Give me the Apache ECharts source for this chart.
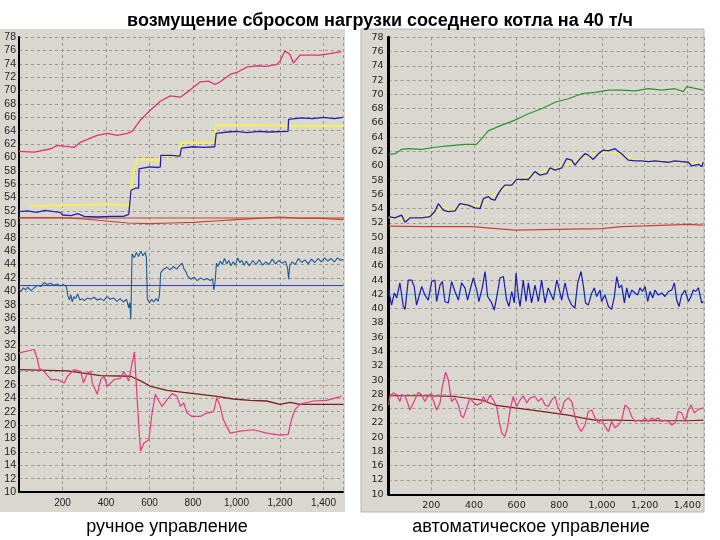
<!DOCTYPE html>
<html><head><meta charset="utf-8">
<script src="https://cdn.jsdelivr.net/npm/echarts@6/dist/echarts.min.js"></script>
<style>html,body{margin:0;padding:0;background:#fff}#c{width:720px;height:540px}</style>
</head><body><div id="c"></div>
<script>
// ---------- DATA (x = sample number, y = value) ----------
const titleText = 'возмущение сбросом нагрузки соседнего котла на 40 т/ч';
const leftCaption = 'ручное управление';
const rightCaption = 'автоматическое управление';

// right panel y tick labels as printed (top to bottom)
const rightYLabels = ['78','76','74','72','70','68','66','64','62','60','58','56','54','52','50','48','46','44','42','40','38','36','34','32','30','28','26','22','20','18','16','12','10'];

// LEFT panel (manual control)
const leftPinkTop = [[0,60.9],[70,60.8],[147,61.3],[177,61.8],[253,61.5],[284,62.3],[315,62.7],[360,63.3],[406,63.6],[452,63.3],[498,63.6],[520,63.9],[559,65.6],[605,67.1],[650,68.4],[696,69.2],[742,69.0],[788,70.1],[834,71.3],[872,71.4],[902,70.9],[925,71.3],[971,72.4],[1002,72.7],[1047,73.5],[1093,73.7],[1139,73.6],[1185,73.9],[1200,74.4],[1223,75.9],[1246,75.4],[1262,74.1],[1292,75.3],[1337,75.3],[1383,75.3],[1429,75.5],[1482,75.8]];
const leftYellow = [[50,52.7],[150,52.8],[300,52.9],[400,53.0],[510,52.8],[516,55.5],[530,58.5],[545,59.7],[600,59.7],[640,59.4],[650,60.3],[740,60.3],[745,62.2],[900,62.2],[905,64.8],[1100,64.8],[1300,64.7],[1490,64.7]];
const leftBlueStep = [[0,51.9],[40,52.0],[80,51.8],[120,52.1],[160,51.9],[190,51.8],[200,51.4],[240,51.3],[270,51.6],[300,51.2],[360,51.1],[420,51.2],[480,51.2],[505,51.5],[513,51.4],[515,55.1],[535,55.4],[550,55.4],[552,58.3],[600,58.6],[640,58.5],[650,58.6],[652,60.3],[700,60.3],[740,60.2],[745,60.3],[747,61.4],[800,61.6],[850,61.5],[900,61.6],[905,61.5],[907,63.6],[960,63.8],[1000,63.9],[1050,63.7],[1100,63.9],[1150,63.8],[1237,63.9],[1240,65.7],[1300,65.9],[1350,65.8],[1400,66.0],[1450,65.8],[1490,66.0]];
const leftRedCurve = [[0,51.0],[200,51.0],[300,50.8],[400,50.5],[500,50.2],[600,50.1],[700,50.2],[800,50.3],[900,50.5],[1000,50.7],[1100,50.9],[1200,51.1],[1300,50.9],[1400,50.9],[1490,50.7]];
const leftRedRef = 50.95;
const leftBlueRef = 40.85;
const leftSteel = [[0,40.3],[10,40.0],[20,40.5],[30,40.2],[40,40.6],[55,40.1],[70,40.5],[85,40.9],[100,40.7],[115,41.3],[130,41.0],[145,41.2],[160,40.9],[175,41.1],[190,40.8],[205,41.0],[218,40.7],[225,39.3],[232,38.7],[238,39.5],[245,38.4],[252,39.2],[260,38.9],[270,39.6],[280,38.7],[290,38.9],[300,38.6],[315,39.0],[330,38.8],[345,39.1],[360,38.7],[375,38.9],[390,38.6],[405,39.2],[420,38.8],[435,39.0],[450,38.5],[465,38.9],[480,38.4],[495,38.8],[505,37.5],[510,38.3],[514,35.8],[517,40.5],[520,45.6],[530,45.0],[540,45.8],[550,45.2],[560,46.0],[570,45.3],[580,45.8],[586,45.0],[590,38.9],[600,38.3],[610,38.8],[620,38.4],[630,38.9],[640,38.5],[646,39.5],[652,42.8],[665,43.3],[680,43.6],[695,43.2],[710,43.7],[725,43.3],[740,43.9],[750,44.2],[758,43.4],[768,42.9],[775,42.3],[790,41.8],[805,42.1],[820,41.6],[835,42.0],[850,41.7],[865,41.9],[880,41.6],[890,41.8],[896,40.2],[902,41.5],[908,44.2],[915,43.7],[925,44.5],[935,44.0],[945,44.9],[955,44.1],[965,44.6],[975,43.8],[985,44.4],[995,43.9],[1005,45.0],[1015,44.3],[1025,44.6],[1035,43.9],[1045,44.5],[1060,43.8],[1075,44.6],[1090,44.0],[1105,44.7],[1120,43.9],[1135,44.4],[1150,44.0],[1165,44.8],[1180,44.1],[1195,44.6],[1210,44.2],[1225,44.5],[1235,43.5],[1240,41.8],[1245,43.8],[1255,44.4],[1270,44.0],[1285,44.9],[1300,44.3],[1315,44.7],[1330,44.1],[1345,44.8],[1360,44.3],[1375,44.9],[1390,44.4],[1405,45.0],[1420,44.5],[1435,44.9],[1450,44.4],[1465,45.0],[1480,44.6],[1490,44.8]];
const leftPinkLow = [[0,30.8],[70,31.3],[78,31.5],[85,29.8],[93,28.5],[116,28.0],[147,26.8],[177,26.8],[208,26.3],[223,27.3],[253,28.3],[284,28.0],[296,26.3],[315,27.8],[330,28.0],[337,26.3],[360,24.6],[376,26.8],[391,27.3],[406,25.8],[437,26.8],[467,27.0],[482,28.0],[505,26.6],[520,29.3],[531,30.9],[540,25.8],[551,19.8],[559,16.1],[574,17.3],[597,17.8],[612,21.8],[627,24.6],[643,23.6],[658,22.8],[681,23.8],[704,24.7],[727,24.3],[742,22.8],[757,23.3],[773,21.8],[795,21.3],[834,21.3],[864,21.8],[895,22.0],[910,24.1],[925,22.8],[940,20.8],[971,18.8],[1017,19.1],[1078,19.3],[1139,18.8],[1200,18.5],[1238,18.6],[1253,20.8],[1269,22.3],[1292,23.1],[1353,23.6],[1414,23.7],[1482,24.3]];
const leftBrown = [[0,28.3],[223,28.1],[376,27.4],[513,27.3],[559,26.6],[605,25.8],[681,25.2],[757,24.9],[834,24.6],[910,24.3],[986,23.9],[1063,23.7],[1139,23.6],[1200,23.1],[1246,23.4],[1292,23.1],[1490,23.1]];

// RIGHT panel (automatic control) — y in the panel's grid units
const rightGreen = [[0,61.6],[30,61.7],[61,62.3],[92,62.4],[155,62.3],[217,62.6],[280,62.8],[358,63.0],[412,63.0],[436,63.8],[467,64.9],[530,65.7],[592,66.4],[655,67.3],[717,68.0],[780,68.9],[842,69.4],[905,70.1],[967,70.3],[1030,70.6],[1092,70.6],[1155,70.5],[1217,70.8],[1280,70.6],[1342,70.8],[1381,70.4],[1397,71.1],[1475,70.6]];
const rightYellow = [[0,52.8],[77,52.6],[155,52.8],[217,53.3],[250,54.3],[300,53.8],[350,54.6],[420,54.3],[467,55.5],[530,56.6],[600,58.0],[686,58.9],[780,59.6],[858,60.5],[936,61.4],[1030,62.0],[1092,61.6],[1155,60.8],[1280,60.6],[1405,60.5],[1475,60.2]];
const rightBlue = [[0,52.9],[30,52.7],[61,53.1],[77,52.1],[100,52.7],[155,52.7],[194,52.9],[217,53.6],[233,54.7],[256,53.8],[280,53.6],[311,53.7],[334,54.7],[373,54.5],[405,54.1],[428,54.0],[444,55.4],[467,55.7],[483,55.3],[498,55.2],[514,56.1],[530,56.8],[545,57.3],[577,57.3],[600,58.1],[623,58.1],[655,58.1],[686,59.2],[709,58.7],[741,58.9],[756,59.7],[780,59.4],[811,59.7],[834,61.0],[858,60.8],[873,60.1],[897,61.0],[920,61.7],[936,61.5],[959,60.9],[983,61.7],[1006,62.2],[1030,62.1],[1061,62.4],[1077,62.0],[1092,61.7],[1123,60.8],[1155,60.7],[1186,60.7],[1217,60.6],[1248,60.7],[1280,60.6],[1311,60.5],[1342,60.7],[1373,60.6],[1405,60.5],[1420,60.0],[1452,60.2],[1467,59.9],[1475,60.5]];
const rightRed = [[0,51.55],[155,51.5],[389,51.5],[592,51.0],[780,51.1],[998,51.2],[1092,51.5],[1202,51.6],[1405,51.8],[1475,51.7]];
const rightCyanRef = 42.0;
const rightBlueNoise = [[0,42.6],[6,41.7],[14,40.5],[27,42.2],[38,41.5],[53,43.6],[69,40.3],[77,39.9],[92,44.0],[108,44.0],[120,43.1],[131,40.5],[142,41.7],[155,43.1],[170,41.9],[186,41.2],[202,43.8],[217,44.0],[225,41.0],[241,43.3],[252,43.8],[264,41.0],[280,40.8],[295,43.8],[311,42.4],[327,41.2],[342,43.6],[358,42.9],[370,41.2],[386,43.1],[397,44.3],[413,42.6],[423,41.0],[439,42.9],[452,45.2],[464,41.7],[483,40.8],[495,39.8],[506,41.5],[522,44.3],[538,44.5],[553,41.2],[564,40.3],[577,42.4],[589,40.8],[597,45.0],[608,41.7],[616,40.3],[631,44.0],[644,41.0],[655,43.6],[670,40.8],[686,43.3],[702,41.0],[717,44.0],[733,40.8],[748,42.9],[772,41.2],[788,44.0],[798,42.9],[811,41.2],[827,43.6],[842,41.5],[858,40.5],[873,40.1],[886,43.6],[902,45.2],[913,43.1],[923,40.8],[936,40.5],[952,42.2],[964,42.9],[975,41.7],[991,42.6],[998,41.0],[1014,41.9],[1030,40.3],[1045,39.9],[1058,41.7],[1069,44.5],[1080,42.9],[1092,43.3],[1105,40.8],[1116,42.9],[1127,41.5],[1139,42.6],[1155,42.2],[1167,41.9],[1178,42.9],[1189,42.4],[1202,43.1],[1214,41.0],[1225,42.4],[1238,41.5],[1248,42.6],[1264,41.9],[1280,42.2],[1295,41.7],[1311,42.4],[1327,42.6],[1339,43.6],[1350,41.2],[1361,40.3],[1373,41.9],[1389,42.6],[1405,41.0],[1417,41.7],[1428,42.6],[1439,42.4],[1452,42.9],[1467,40.8],[1475,41.0]];
const rightPink = [[0,26.5],[6,27.7],[22,28.2],[38,27.9],[53,27.0],[61,27.9],[77,27.8],[89,26.8],[100,25.8],[116,26.8],[139,28.3],[155,27.9],[170,27.0],[183,27.7],[198,28.1],[209,27.2],[225,25.8],[241,26.8],[252,29.1],[267,31.1],[280,30.0],[295,27.0],[311,27.5],[327,26.5],[339,25.1],[350,24.7],[366,26.1],[381,27.5],[397,26.9],[413,26.5],[436,26.8],[444,27.7],[459,26.9],[475,27.9],[491,27.2],[506,26.3],[517,24.4],[530,22.6],[545,22.1],[558,23.5],[569,25.8],[584,27.7],[600,26.3],[616,27.2],[631,27.8],[647,26.8],[663,27.5],[686,27.7],[702,27.0],[717,27.5],[733,26.5],[748,26.3],[764,27.2],[780,27.7],[792,26.3],[808,25.4],[823,27.0],[842,27.5],[858,27.0],[873,24.9],[886,23.7],[902,22.8],[920,23.7],[936,25.6],[952,25.8],[967,24.7],[983,24.0],[998,24.4],[1014,23.5],[1030,22.8],[1045,24.2],[1061,23.3],[1077,23.7],[1092,24.4],[1108,26.5],[1123,26.1],[1139,24.9],[1155,24.2],[1170,24.4],[1186,24.2],[1202,24.7],[1217,24.2],[1233,24.7],[1248,24.4],[1264,24.7],[1280,24.2],[1295,24.4],[1311,24.2],[1327,23.7],[1342,24.0],[1358,25.6],[1373,25.4],[1389,24.2],[1405,25.8],[1417,26.5],[1433,25.4],[1452,25.9],[1475,26.1]];
const rightBrown = [[0,27.8],[155,27.8],[311,27.7],[436,27.2],[498,26.5],[592,26.1],[717,25.6],[842,25.1],[905,24.7],[967,24.4],[1061,24.4],[1186,24.3],[1405,24.3],[1475,24.4]];

// ---------- CHART ----------
const chart = echarts.init(document.getElementById('c'), null, {renderer:'canvas'});
const fmtX = v => (v === 0 || v % 200 !== 0) ? '' : v.toLocaleString('en-US');
const split = {show:true, lineStyle:{color:'#9a9890', type:[3,3], width:1}};

function xAx(gi, max, font, labelSize){
  return {type:'value', gridIndex:gi, min:0, max:max, interval:200,
    axisLine:{show:true, onZero:false, lineStyle:{color:'#000', width:2}},
    axisTick:{show:false},
    axisLabel:{formatter:fmtX, color:'#222', fontFamily:font, fontSize:labelSize, margin:6},
    splitLine:split};
}
function line(name, data, xi, color, width, z){
  return {name, type:'line', xAxisIndex:xi, yAxisIndex:xi, data, symbol:'none',
    lineStyle:{color, width}, z:z||2, animation:false};
}
function hline(name, value, xi, color, width, xmax){
  return line(name, [[0,value],[xmax,value]], xi, color, width, 1);
}

chart.setOption({
  backgroundColor:'#ffffff',
  animation:false,
  title:{text:titleText, left:375, top:7, textAlign:'center',
    textStyle:{fontFamily:'Liberation Sans, Arial', fontWeight:'bold', fontSize:18, color:'#000'}},
  graphic:{elements:[
    {type:'rect', shape:{x:0, y:29, width:345, height:483}, style:{fill:'#dad7d0'}, z:-100, silent:true},
    {type:'rect', shape:{x:361, y:29, width:343, height:483}, style:{fill:'#dad7d0', stroke:'#b8b5ae', lineWidth:1}, z:-100, silent:true},
    {type:'text', x:167, y:527, style:{text:leftCaption, textAlign:'center', textVerticalAlign:'middle', font:'18px "Liberation Sans", Arial', fill:'#000'}, z:10},
    {type:'text', x:531, y:527, style:{text:rightCaption, textAlign:'center', textVerticalAlign:'middle', font:'18px "Liberation Sans", Arial', fill:'#000'}, z:10}
  ]},
  grid:[
    {left:19, top:37, width:324, height:455},
    {left:388.6, top:37.3, width:315.4, height:457}
  ],
  xAxis:[xAx(0,1490,'Liberation Sans, Arial',10), xAx(1,1478,'DejaVu Sans',9.5)],
  yAxis:[
    {type:'value', gridIndex:0, min:10, max:78, interval:2,
      axisLine:{show:true, onZero:false, lineStyle:{color:'#000', width:2}}, axisTick:{show:false},
      axisLabel:{color:'#222', fontFamily:'Liberation Sans, Arial', fontSize:10.5, margin:3},
      splitLine:split},
    {type:'value', gridIndex:1, min:14, max:78, interval:2,
      axisLine:{show:true, onZero:false, lineStyle:{color:'#000', width:3}}, axisTick:{show:false},
      axisLabel:{color:'#222', fontFamily:'DejaVu Sans', fontSize:9.5, margin:5,
        formatter:v => rightYLabels[Math.round((78 - v) / 2)] || ''},
      splitLine:split}
  ],
  series:[
    hline('l-ref51', leftRedRef, 0, '#c0442c', 1, 1490),
    hline('l-ref41', leftBlueRef, 0, '#2a3ac8', 1, 1490),
    line('l-red', leftRedCurve, 0, '#c8402a', 1.2),
    line('l-yellow', leftYellow, 0, '#eeec72', 2.5),
    line('l-blue', leftBlueStep, 0, '#2020b0', 1.3, 3),
    line('l-pink-top', leftPinkTop, 0, '#e0326e', 1.3),
    line('l-steel', leftSteel, 0, '#1f5a96', 1.1),
    line('l-brown', leftBrown, 0, '#7a1e1e', 1.3),
    line('l-pink-low', leftPinkLow, 0, '#e83a7a', 1.2, 3),
    line('r-green', rightGreen, 1, '#2a962a', 1.2),
    line('r-red', rightRed, 1, '#d04030', 1.3),
    line('r-yellow', rightYellow, 1, '#eeec72', 2),
    line('r-blue', rightBlue, 1, '#1a1ab4', 1.3, 3),
    hline('r-cyan', rightCyanRef, 1, '#5cc8e8', 1, 1478),
    line('r-blue-noise', rightBlueNoise, 1, '#1a1ab4', 1.2, 3),
    line('r-brown', rightBrown, 1, '#7a1e1e', 1.2),
    line('r-pink', rightPink, 1, '#e83a7a', 1.2, 3)
  ]
});
</script></body></html>
